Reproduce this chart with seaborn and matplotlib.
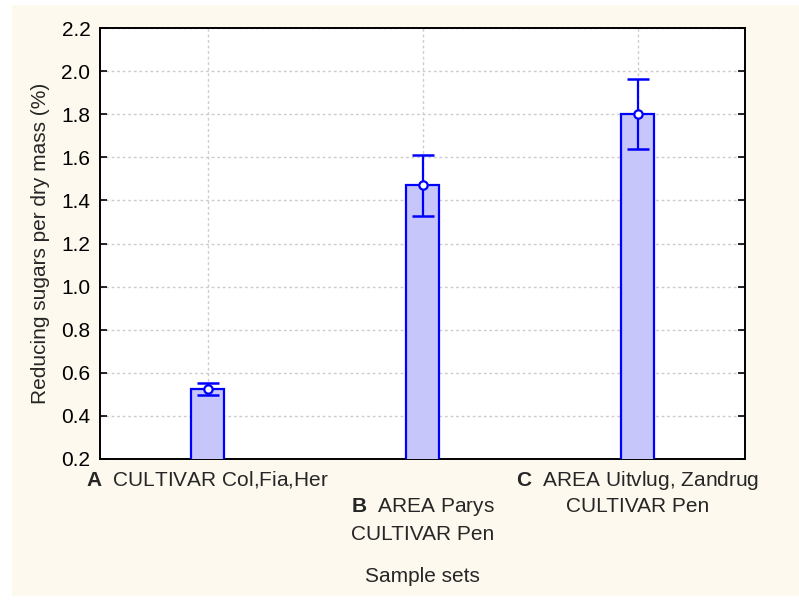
import matplotlib
matplotlib.use("Agg")
import matplotlib.pyplot as plt
import matplotlib.transforms as mtransforms
from matplotlib.patches import Rectangle
import seaborn as sns
import pandas as pd

# ---- data ----
categories = ["A", "B", "C"]
means = [0.525, 1.47, 1.80]
errors = [0.027, 0.142, 0.162]
label_line1 = ["$\\mathbf{A}$  CULTIVAR Col,Fia,Her", None, "$\\mathbf{C}$  AREA Uitvlug, Zandrug"]
label_line2 = [None, "$\\mathbf{B}$  AREA Parys", "CULTIVAR Pen"]
label_line3 = [None, "CULTIVAR Pen", None]
y_ticks = [0.2, 0.4, 0.6, 0.8, 1.0, 1.2, 1.4, 1.6, 1.8, 2.0, 2.2]
x_title = "Sample sets"
y_title = "Reducing sugars per dry mass (%)"

sns.set_style("white")
plt.rcParams["font.family"] = ["Liberation Sans", "DejaVu Sans"]
plt.rcParams["mathtext.fontset"] = "custom"
plt.rcParams["mathtext.rm"] = "Liberation Sans"
plt.rcParams["mathtext.bf"] = "Liberation Sans:bold"

FS = 15

W, H = 799, 600
fig = plt.figure(figsize=(W / 100, H / 100), dpi=100, facecolor="white")
fig.patches.append(Rectangle((12 / W, 1 - 596 / H), (W - 12) / W, (596 - 5) / H,
                             transform=fig.transFigure, facecolor="#fdf9ee",
                             edgecolor="none", zorder=-10))

ax = fig.add_axes([100 / W, 1 - 459 / H, 645 / W, (459 - 28) / H])
ax.set_facecolor("white")

df = pd.DataFrame({"cat": categories, "val": means})
sns.barplot(data=df, x="cat", y="val", ax=ax, width=0.158, color="#c6c6fb",
            edgecolor="#0000ff", linewidth=1.6, saturation=1, errorbar=None, zorder=3)
for p in ax.patches:
    p.set_facecolor("#c6c6fb")
    p.set_zorder(3)

xs = list(range(len(categories)))
ax.errorbar(xs, means, yerr=errors, fmt="none", ecolor="#0000ff", elinewidth=1.6,
            capsize=8, capthick=1.8, zorder=5)
ax.plot(xs, means, linestyle="none", marker="o", markersize=6,
        markerfacecolor="white", markeredgecolor="#0000ff", markeredgewidth=1.6, zorder=6)

ax.set_xlim(-0.5, 2.5)
ax.set_ylim(0.2, 2.2)
ax.set_yticks(y_ticks)
ax.set_yticklabels([f"{v:.1f}" for v in y_ticks], fontsize=FS)
ax.set_xticks(xs)
ax.set_xticklabels([])
ax.set_xlabel("")
ax.set_ylabel("")

ax.grid(True, color="#cccccc", linestyle=(0, (2, 2)), linewidth=1.0, zorder=0)
ax.set_axisbelow(True)

ax.tick_params(axis="y", direction="in", length=5, width=1.2, left=True, right=True,
               pad=7, colors="black")
ax.tick_params(axis="x", direction="in", length=4, width=1.5, bottom=True, top=False, pad=4)
for s in ax.spines.values():
    s.set_visible(True)
    s.set_color("black")
    s.set_linewidth(1.4)

trans = mtransforms.blended_transform_factory(ax.transData, fig.transFigure)
ys = [1 - 480 / H, 1 - 507 / H, 1 - 534 / H]
for i in xs:
    for lines_list, yy in zip([label_line1, label_line2, label_line3], ys):
        t = lines_list[i]
        if t:
            ax.text(i, yy, t, transform=trans, ha="center", va="center", fontsize=FS)

fig.text((100 + 645 / 2) / W, 1 - 576 / H, x_title, ha="center", va="center", fontsize=FS)
fig.text(41 / W, 1 - 243 / H, y_title, ha="center", va="center", rotation=90, fontsize=FS)

fig.savefig("out.png", dpi=100, facecolor=fig.get_facecolor())
